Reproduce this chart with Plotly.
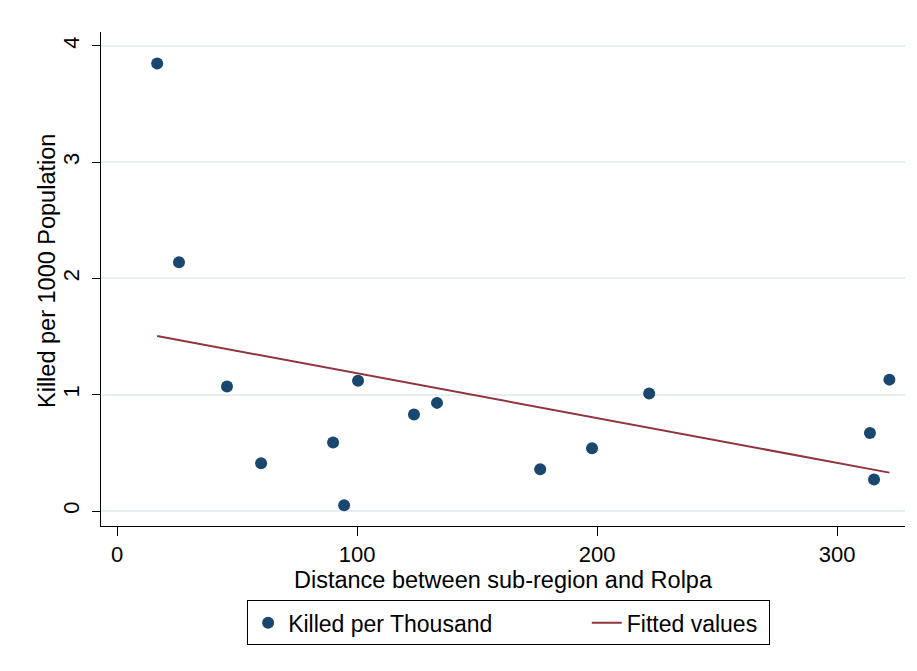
import plotly.graph_objects as go

# Data
distance = [16.7, 25.8, 45.8, 60.0, 90.0, 94.6, 100.4, 123.7, 133.3, 176.3, 197.9, 221.7, 313.7, 315.4, 321.8]
killed = [3.85, 2.14, 1.07, 0.41, 0.59, 0.05, 1.12, 0.83, 0.93, 0.36, 0.54, 1.01, 0.67, 0.27, 1.13]
fit_x = [16.7, 321.8]
fit_y = [1.505, 0.33]
x_ticks = [0, 100, 200, 300]
y_ticks = [0, 1, 2, 3, 4]
series_names = ["Killed per Thousand", "Fitted values"]

FONT = "Liberation Sans, Arial, sans-serif"
NAVY = "#1a476f"
MAROON = "#90353b"
GRID = "#e6eef1"

fig = go.Figure()
fig.add_trace(go.Scatter(
    x=distance, y=killed, mode="markers", name=series_names[0] + "\u00a0" * 14,
    marker=dict(color=NAVY, size=12, line=dict(width=0)),
))
fig.add_trace(go.Scatter(
    x=fit_x, y=fit_y, mode="lines", name=series_names[1] + "\u00a0",
    line=dict(color=MAROON, width=2),
))

fig.update_layout(
    width=909, height=663,
    margin=dict(l=93, r=12, t=24, b=145),
    paper_bgcolor="white", plot_bgcolor="white",
    font=dict(family=FONT, size=22, color="black"),
    showlegend=True,
    legend=dict(
        orientation="h", x=0.507, xanchor="center", y=-0.196, yanchor="middle",
        bordercolor="black", borderwidth=1, bgcolor="white",
        font=dict(family=FONT, size=23, color="black"),
        itemwidth=30, tracegroupgap=0,
    ),
    xaxis=dict(
        range=[-6.7, 328.3], tickvals=x_ticks, ticktext=[str(v) for v in x_ticks],
        showgrid=False, zeroline=False, showline=True, linecolor="black", linewidth=1,
        ticks="outside", ticklen=9, tickcolor="black", tickwidth=1,
        tickfont=dict(family=FONT, size=22),
        title=dict(text="Distance between sub-region and Rolpa", font=dict(family=FONT, size=23.5), standoff=0),
    ),
    yaxis=dict(
        range=[-0.129, 4.12], tickvals=y_ticks, ticktext=[str(v) for v in y_ticks],
        showgrid=True, gridcolor=GRID, gridwidth=1.5, zeroline=False,
        showline=True, linecolor="black", linewidth=1,
        ticks="outside", ticklen=8, tickcolor="black", tickwidth=1, tickangle=-90,
        ticklabelstandoff=4,
        tickfont=dict(family=FONT, size=22),
    ),
    annotations=[dict(
        text="Killed per 1000 Population", xref="paper", yref="paper",
        x=0, y=0.5, xanchor="center", yanchor="middle", xshift=-54, yshift=8,
        textangle=-90, showarrow=False, font=dict(family=FONT, size=23.5, color="black"),
    )],
    shapes=[dict(type="line", xref="paper", yref="paper",
                 x0=-0.119, x1=1.015, y0=1.0506, y1=1.0506,
                 line=dict(color="#e8e8e8", width=1))],
)

fig.write_html("out.html")
